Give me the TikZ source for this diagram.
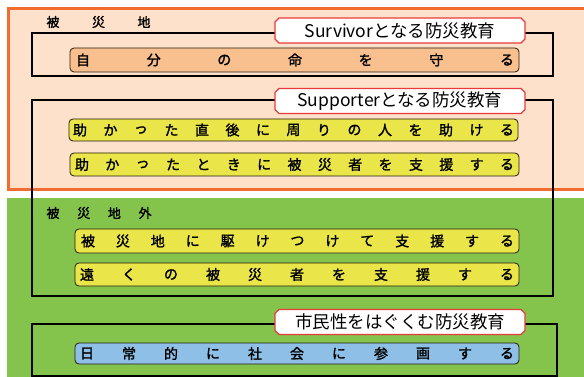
\documentclass[tikz,border=0pt]{standalone}
\usepackage{fontspec}
\newfontfamily\jp{Noto Sans CJK JP}
\newfontfamily\jpb{Noto Sans CJK JP}[FakeBold=1.6]
\usetikzlibrary{shapes.misc}
\definecolor{peach}{HTML}{FDE1CB}
\definecolor{orangeline}{HTML}{F26B2F}
\definecolor{grass}{HTML}{84C44C}
\definecolor{barorange}{HTML}{F8C08E}
\definecolor{baryellow}{HTML}{EAE64A}
\definecolor{barblue}{HTML}{8EBFE6}
\definecolor{labred}{HTML}{E83A3A}
\tikzset{
  frame/.style={draw=black,line width=2.4pt},
  barbox/.style={draw=black!80!brown,line width=0.8pt,rounded corners=4pt},
  bartxt/.style={font=\jpb\fontsize{14}{14}\selectfont,inner sep=0pt},
  areatxt/.style={font=\jpb\fontsize{13}{13}\selectfont,inner sep=0pt},
  labbox/.style={chamfered rectangle,chamfered rectangle xsep=2pt,chamfered rectangle ysep=2pt,
    draw=labred,line width=1.2pt,fill=white,minimum width=250pt,minimum height=25pt,
    inner sep=0pt,font=\jp\fontsize{17.5}{17.5}\selectfont}
}
\begin{document}
\begin{tikzpicture}[x=1pt,y=-1pt]
\useasboundingbox (0,0) rectangle (584,377);
\clip (0,0) rectangle (584,377);
% areas
\fill[white] (0,0) rectangle (584,377);
\draw[orangeline,line width=3pt,fill=peach] (8,9) rectangle (600,190);
\fill[grass] (7,198) rectangle (584,377);
% area labels
\foreach \c [count=\i from 0] in {被,災,地}
  \node[areatxt] (a\i) at ({53+\i*45.5},22) {\c};
\foreach \c [count=\i from 0] in {被,災,地,外}
  \node[areatxt] (b\i) at ({53+\i*30.7},213) {\c};
% frames
\draw[frame] (32,33) rectangle (553,76);
\draw[frame] (32,100) rectangle (553,296);
\draw[frame] (32,324) rectangle (557,376);
% bars
\draw[barbox,fill=barorange] (70,48) rectangle (519,72);
\draw[barbox,fill=baryellow] (69,119) rectangle (518,141);
\draw[barbox,fill=baryellow] (70,153) rectangle (519,176);
\draw[barbox,fill=baryellow] (75,229) rectangle (519,253);
\draw[barbox,fill=baryellow] (75,263) rectangle (519,286);
\draw[barbox,fill=barblue] (75,343) rectangle (519,364);
% bar texts
\foreach \c [count=\i from 0] in {自,分,の,命,を,守,る}
  \node[bartxt] (s\i) at ({83+\i*70.67},60) {\c};
\foreach \c [count=\i from 0] in {助,か,っ,た,直,後,に,周,り,の,人,を,助,け,る}
  \node[bartxt] (p\i) at ({80+\i*30.5},130) {\c};
\foreach \c [count=\i from 0] in {助,か,っ,た,と,き,に,被,災,者,を,支,援,す,る}
  \node[bartxt] (q\i) at ({82+\i*30.36},164.5) {\c};
\foreach \c [count=\i from 0] in {被,災,地,に,駆,け,つ,け,て,支,援,す,る}
  \node[bartxt] (r\i) at ({88+\i*34.92},241) {\c};
\foreach \c [count=\i from 0] in {遠,く,の,被,災,者,を,支,援,す,る}
  \node[bartxt] (t\i) at ({87+\i*42},274.5) {\c};
\foreach \c [count=\i from 0] in {日,常,的,に,社,会,に,参,画,す,る}
  \node[bartxt] (u\i) at ({87+\i*42},353.5) {\c};
% titles
\node[labbox] (surv) at (400,30.5) {Survivorとなる防災教育};
\node[labbox] (supp) at (400,101) {Supporterとなる防災教育};
\node[labbox] (civ) at (400,322) {市民性をはぐくむ防災教育};
\end{tikzpicture}
\end{document}
